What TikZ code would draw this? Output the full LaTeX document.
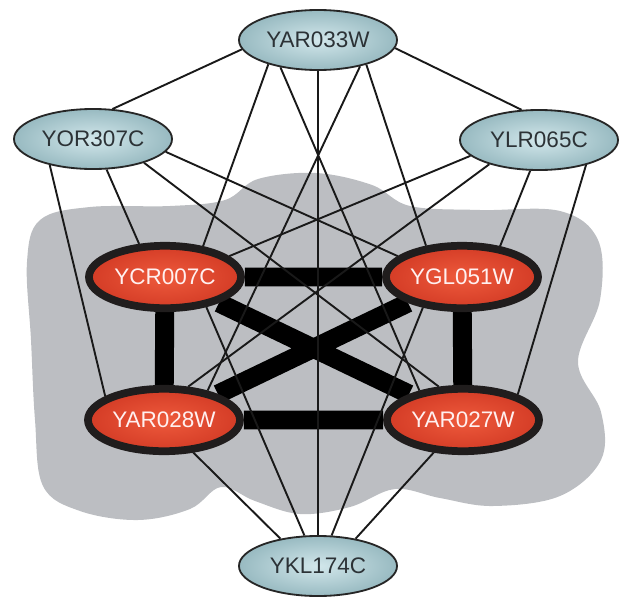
\documentclass[tikz,border=0pt]{standalone}
\usepackage{fontspec}
\setmainfont{Liberation Sans}
\usepackage{tikz}
\usetikzlibrary{shapes.geometric}
\usepackage{xcolor}
\definecolor{blob}{RGB}{188,190,194}
\definecolor{bluein}{RGB}{210,231,235}
\definecolor{blueout}{RGB}{152,186,193}
\definecolor{redin}{RGB}{238,90,60}
\definecolor{redout}{RGB}{212,60,38}
\definecolor{ring}{RGB}{32,29,29}
\definecolor{bluetext}{RGB}{44,50,54}
\pgfdeclarelayer{bg}
\pgfdeclarelayer{edges}
\pgfsetlayers{bg,edges,main}

\begin{document}
\begin{tikzpicture}[x=0.025cm,y=-0.025cm,
  thin edge/.style={draw=black!90,line width=1.35pt},
  thick edge/.style={draw=black,line width=13.5pt}]
\tikzstyle{outer}=[ellipse,draw=black!85,line width=1.3pt,inner color=bluein,outer color=blueout,minimum width=3.95cm,minimum height=1.5cm,inner sep=0pt,font=\fontsize{16}{19}\selectfont,text=bluetext]
\tikzstyle{core}=[ellipse,draw=ring,line width=5.5pt,inner color=redin,outer color=redout,minimum width=3.8cm,minimum height=1.56cm,inner sep=0pt,font=\fontsize{16}{19}\selectfont,text=white!94!red]
\useasboundingbox (0,0) rectangle (619,599);

\node [outer] (a) at (318,40) {YAR033W};
\node [outer] (b) at (93,139) {YOR307C};
\node [outer] (c) at (539,140) {YLR065C};
\node [core] (d) at (165,277) {YCR007C};
\node [core] (e) at (462,277) {YGL051W};
\node [core] (f) at (164,420) {YAR028W};
\node [core] (g) at (463,420) {YAR027W};
\node [outer] (h) at (318,566) {YKL174C};

\begin{pgfonlayer}{bg}
\fill [blob] plot [smooth cycle, tension=0.6] coordinates {
  (27,262) (40,220) (90,207) (170,206) (225,200) (258,179) (316,173)
  (372,185) (410,206) (480,210) (560,211) (598,240) (600,300) (578,362)
  (601,412) (601,460) (560,496) (493,506) (440,498) (395,489) (350,507)
  (300,514) (255,501) (221,487) (190,509) (138,520) (80,511) (43,486)
  (35,420) (31,340)};
\end{pgfonlayer}

\begin{pgfonlayer}{edges}
\draw [thick edge] (d) -- (e) (d) -- (f) (e) -- (g) (f) -- (g) (d) -- (g) (e) -- (f);
\draw [thin edge] (a.187) -- (b.57) (a.354) -- (c.120)
  (a.206) -- (d.39) (a.216) -- (g.146) (a.270) -- (h.90)
  (a.328) -- (f.34) (a.333) -- (e.139);
\draw [thin edge] (b.211) -- (f.158) (b.294) -- (d.128)
  (b.335) -- (g.126) (b.350) -- (e.162);
\draw [thin edge] (c.254) -- (e.39) (c.332) -- (g.25)
  (c.193) -- (d.18) (c.206) -- (f.54);
\draw [thin edge] (h.144) -- (f.312) (h.114) -- (d.324)
  (h.66) -- (e.218) (h.36) -- (g.228);
\end{pgfonlayer}

\end{tikzpicture}
\end{document}
